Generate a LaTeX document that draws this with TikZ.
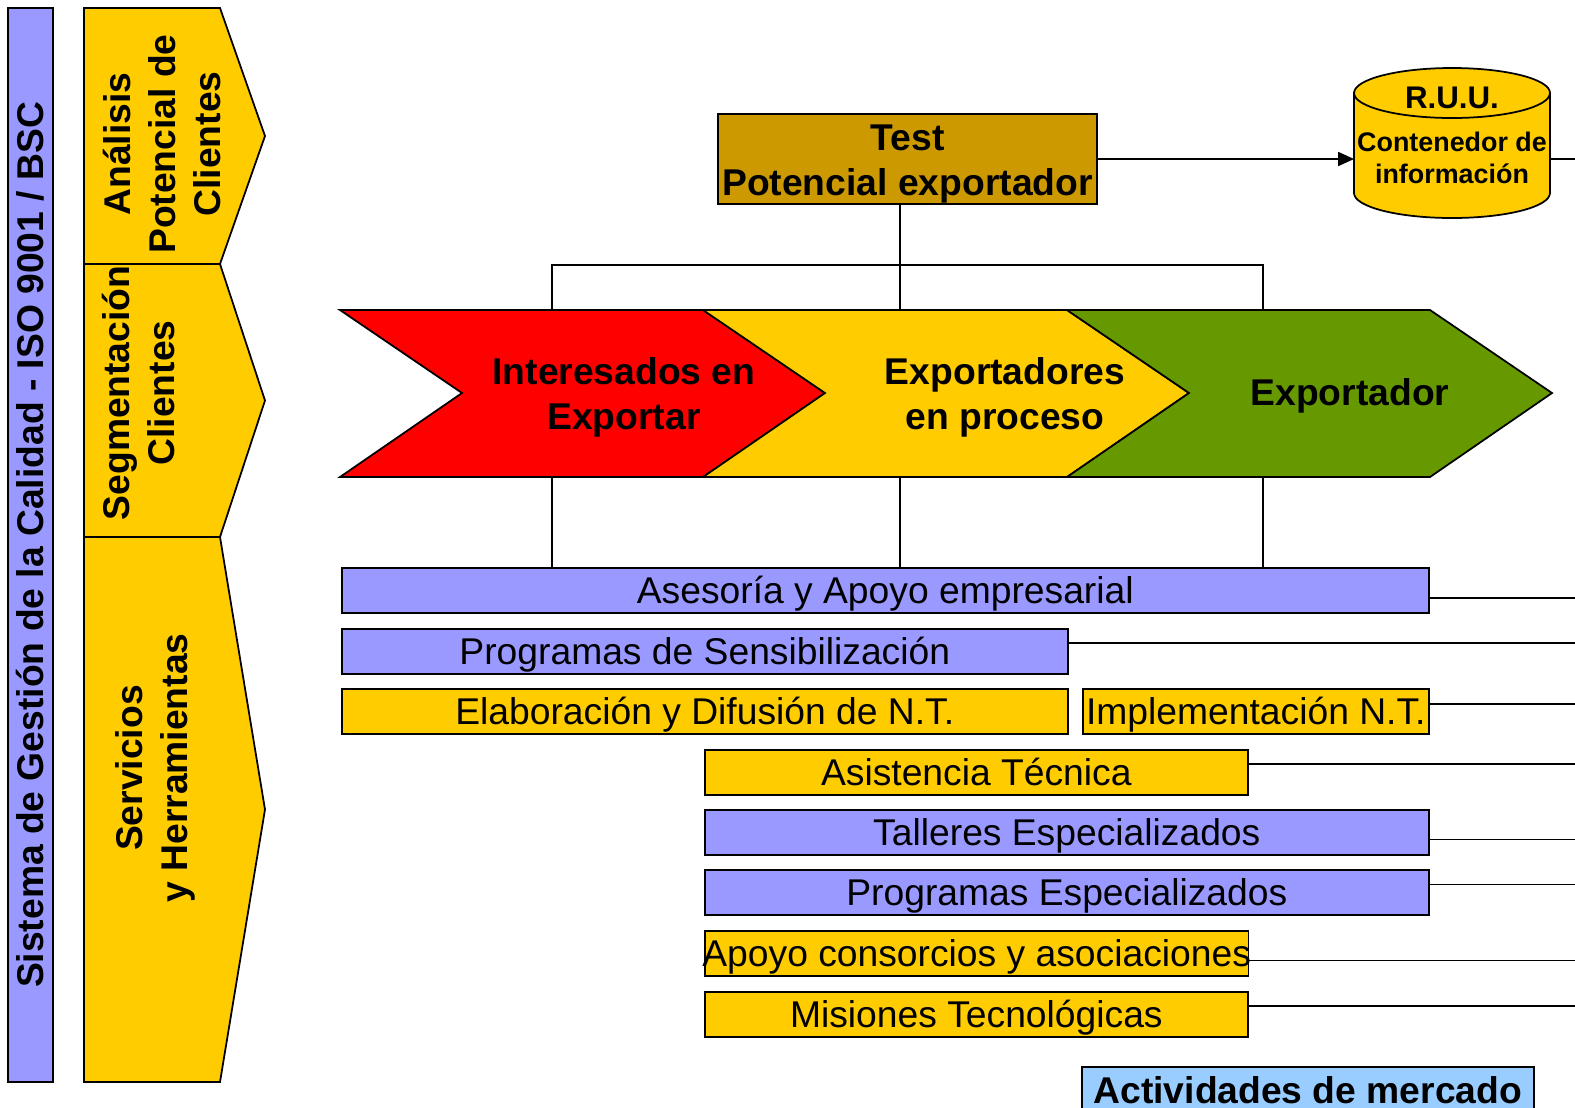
\documentclass[tikz,border=0pt]{standalone}
\usepackage{fontspec}
\setmainfont{Liberation Sans}
\usetikzlibrary{arrows.meta,calc}
\definecolor{chyel}{HTML}{FFCC00}
\definecolor{chred}{HTML}{FF0000}
\definecolor{chgrn}{HTML}{669900}
\definecolor{barblu}{HTML}{9999FF}
\definecolor{testc}{HTML}{CC9900}
\definecolor{actblu}{HTML}{99CCFF}
\newcommand{\bigbf}{\fontsize{21.2}{25.6}\selectfont\bfseries}
\newcommand{\barfont}{\fontsize{21.2}{24}\selectfont}
\newcommand{\midbf}{\fontsize{17.8}{20}\selectfont\bfseries}
\newcommand{\smallbf}{\fontsize{15.3}{18}\selectfont\bfseries}
\tikzset{
  bar/.style={draw, line width=1pt, anchor=north west, inner sep=0pt, minimum height=0.9cm, font=\barfont, text height=15.2pt, text depth=0pt},
  bluebar/.style={bar, fill=barblu},
  yelbar/.style={bar, fill=chyel},
  sidelbl/.style={rotate=90, align=center, font=\bigbf},
  chlbl/.style={align=center, font=\bigbf},
  conn/.style={line width=0.8pt}
}
\begin{document}
\begin{tikzpicture}[x=0.02cm,y=-0.02cm,line width=1pt]
  \useasboundingbox (0,0) rectangle (1575,1107);
  \clip (0,0) rectangle (1575,1107);
  \coordinate (edge) at (1575,0);

  % quality system bar
  \node[draw, fill=barblu, rotate=90, minimum width=21.48cm, minimum height=0.9cm, inner sep=0pt, font=\bigbf] (qms) at (30.5,545) {Sistema de Gestión de la Calidad - ISO 9001 / BSC};

  % left column
  \foreach \t/\b in {8/264, 264/537, 537/1082}
    \filldraw[fill=chyel] (84,\t) -- (220,\t) -- (265,{(\t+\b)/2}) -- (220,\b) -- (84,\b) -- cycle;
  \node[sidelbl] (ana) at (162,144) {Análisis\\Potencial de\\Clientes};
  \node[sidelbl] (seg) at (139,393) {Segmentación\\Clientes};
  \node[sidelbl] (serv) at (155,768) {Servicios\\y Herramientas};

  % test and R.U.U.
  \node[draw, fill=testc, minimum width=7.58cm, minimum height=1.8cm, inner sep=0pt] (test) at (907.5,159) {};
  \node[chlbl] (testlbl) at ([yshift=-2.8pt]test.center) {Test\\Potencial exportador};
  \filldraw[fill=chyel] (1354,93) -- (1354,193) arc[start angle=180, end angle=360, x radius=1.96cm, y radius=0.5cm]
    -- (1550,93) arc[start angle=0, end angle=180, x radius=1.96cm, y radius=0.5cm] -- cycle;
  \draw (1354,93) arc[start angle=180, end angle=360, x radius=1.96cm, y radius=0.5cm];
  \node[font=\midbf] (ruu) at (1452,98) {R.U.U.};
  \node[font=\smallbf, align=center] (cont) at (1452,158) {Contenedor de\\información};
  \coordinate (cylw) at (1354,159);
  \coordinate (cyle) at (1550,159);
  \draw[conn, -{Triangle[length=9pt,width=8pt]}] (test.east) -- (cylw);
  \draw[conn] (cyle) -- (cyle -| edge);

  % stages
  \foreach \f/\l/\r in {chred/340/703, chyel/703/1067, chgrn/1067/1430}
    \filldraw[fill=\f] (\l,310) -- (\r,310) -- ++(122,83) -- (\r,477) -- (\l,477) -- ++(122,-84) -- cycle;
  \node[chlbl] (intr) at (624,397) {Interesados en\\Exportar};
  \node[chlbl] (proc) at (1005,397) {Exportadores\\en proceso};
  \node[chlbl] (expo) at (1350,396) {Exportador};

  \coordinate (c1) at (552,310);
  \coordinate (c2) at (900,310);
  \coordinate (c3) at (1263,310);
  \coordinate (d1) at (552,477);
  \coordinate (d2) at (900,477);
  \coordinate (d3) at (1263,477);
  \coordinate (hub) at (900,265);
  \draw[conn] (c1) |- (hub) -| (c3);
  \draw[conn] (test.south -| c2) -- (c2);

  % services
  \node[bluebar, minimum width=21.74cm] (ases) at (341,567) {Asesoría y Apoyo empresarial};
  \node[bluebar, minimum width=14.52cm] (sens) at (341,628) {Programas de Sensibilización};
  \node[yelbar, minimum width=14.52cm] (elab) at (341,688) {Elaboración y Difusión de N.T.};
  \node[yelbar, minimum width=6.92cm] (impl) at (1082,688) {Implementación N.T.};
  \node[yelbar, minimum width=10.86cm] (asis) at (704,749) {Asistencia Técnica};
  \node[bluebar, minimum width=14.48cm] (tall) at (704,809) {Talleres Especializados};
  \node[bluebar, minimum width=14.48cm] (prog) at (704,869) {Programas Especializados};
  \node[yelbar, minimum width=10.86cm, inner xsep=-0.05cm] (apoy) at (704,930) {Apoyo consorcios y asociaciones};
  \node[yelbar, minimum width=10.86cm] (misi) at (704,991) {Misiones Tecnológicas};

  \foreach \i in {1,2,3}
    \draw[conn] (d\i) -- (d\i |- ases.north);

  \foreach \n/\dy in {ases/7.5, sens/-8.5, impl/-7.5, asis/-8.5, tall/7, prog/-8, apoy/7, misi/-8.5}{
    \coordinate (o) at ($(\n.east)+(0,\dy)$);
    \draw[conn] (o) -- (o -| edge);
  }

  \node[draw, fill=actblu, anchor=north west, minimum width=9.04cm, minimum height=1.08cm, inner sep=0pt, font=\bigbf, text height=15.2pt, text depth=4.6pt] (act) at (1081,1066) {Actividades de mercado};
\end{tikzpicture}
\end{document}
